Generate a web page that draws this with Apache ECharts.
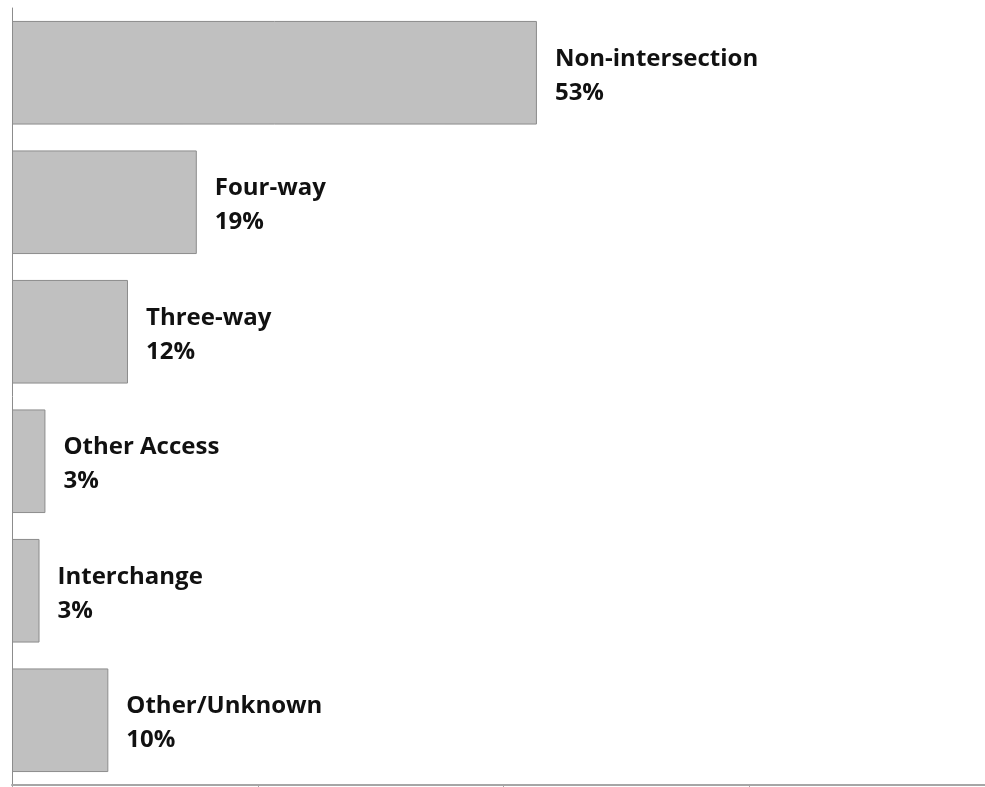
<!DOCTYPE html>
<html>
<head>
<meta charset="utf-8">
<script src="https://cdn.jsdelivr.net/npm/echarts@6/dist/echarts.min.js"></script>
<style>
html,body{margin:0;padding:0;background:#fff;overflow:hidden;width:985px;height:787px;}
#c{width:995px;height:787px;}
</style>
</head>
<body>
<div id="c"></div>
<script>
const categories = ["Non-intersection", "Four-way", "Three-way", "Other Access", "Interchange", "Other/Unknown"];
const values = [53.4, 18.8, 11.8, 3.4, 2.8, 9.8];
const pctLabels = ["53%", "19%", "12%", "3%", "3%", "10%"];

const chart = echarts.init(document.getElementById('c'), null, {renderer: 'canvas'});
chart.setOption({
  animation: false,
  backgroundColor: '#ffffff',
  grid: {left: 12, top: 8, bottom: 2, right: 0, containLabel: false},
  xAxis: {
    type: 'value', min: 0, max: 100, interval: 25,
    axisLine: {show: true, lineStyle: {color: '#a6a6a6', width: 2}},
    axisTick: {show: true, length: 4, lineStyle: {color: '#a6a6a6', width: 1}},
    axisLabel: {show: false},
    splitLine: {show: false}
  },
  yAxis: {
    type: 'category', data: categories, inverse: true,
    axisLine: {show: true, lineStyle: {color: '#8c8c8c', width: 1}},
    axisTick: {show: false},
    axisLabel: {show: false},
    splitLine: {show: false}
  },
  series: [{
    type: 'bar',
    data: values,
    barCategoryGap: '20%',
    itemStyle: {color: '#c0c0c0', borderColor: '#8c8c8c', borderWidth: 1},
    label: {
      show: true, position: 'right', distance: 18, offset: [0, 3],
      formatter: p => p.name + '\n' + pctLabels[p.dataIndex],
      fontFamily: 'Open Sans', fontWeight: 'bold', fontSize: 24,
      lineHeight: 34, color: '#111111'
    }
  }]
});
</script>
</body>
</html>
